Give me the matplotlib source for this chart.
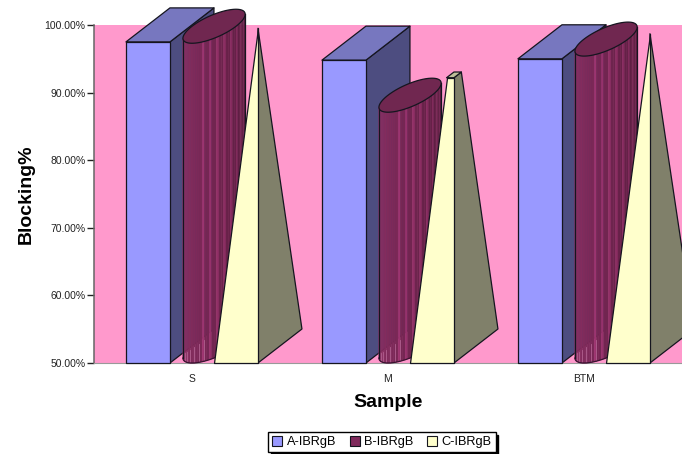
import matplotlib
matplotlib.use('Agg')
import matplotlib.pyplot as plt
from matplotlib.patches import Patch, Polygon
import numpy as np

plt.rcParams['font.family'] = ['Liberation Sans', 'DejaVu Sans']

samples = ['S', 'M', 'BTM']
a_values = [97.5, 94.8, 95.0]
b_values = [97.3, 87.1, 95.4]
c_values = [97.0, 92.2, 96.2]
# height the pyramid would reach if it was not cut off (only M is)
c_peaks = [97.0, 98.2, 96.2]
series_names = ['A-IBRgB', 'B-IBRgB', 'C-IBRgB']
y_ticks = [50, 60, 70, 80, 90, 100]

BASE = 50
WIDTH = 0.2245
DEPTH_X = 0.2245
DEPTH_Y = 5.03
EDGE = '#15151f'
LW = 0.9


def shape(ax, pts, color, zorder, edge=EDGE, lw=LW):
    ax.add_patch(Polygon(pts, closed=True, facecolor=color, edgecolor=edge,
                         linewidth=lw, joinstyle='round', clip_on=False, zorder=zorder))


# Box series
def draw_box(ax, x, v, zorder):
    r = x + WIDTH
    shape(ax, [(r, BASE), (r + DEPTH_X, BASE + DEPTH_Y), (r + DEPTH_X, v + DEPTH_Y), (r, v)], '#4d4d80', zorder)
    shape(ax, [(x, v), (r, v), (r + DEPTH_X, v + DEPTH_Y), (x + DEPTH_X, v + DEPTH_Y)], '#7777bf', zorder)
    shape(ax, [(x, BASE), (r, BASE), (r, v), (x, v)], '#9999ff', zorder)


def ring(cx, cy, t):
    return cx + WIDTH / 2 * (np.cos(t) + np.sin(t)), cy + DEPTH_Y / 2 * np.sin(t)


# Cylinder series, body built from thin vertical strips for the shading
def draw_cylinder(ax, x, v, zorder):
    cx = x + WIDTH / 2 + DEPTH_X / 2
    low = BASE + DEPTH_Y / 2
    top = v + DEPTH_Y / 2
    ts = np.linspace(5 * np.pi / 4, 9 * np.pi / 4, 41)
    for i in range(len(ts) - 1):
        f = i / (len(ts) - 2)
        col = np.array([0.56, 0.19, 0.40]) * (1 - f) + np.array([0.33, 0.10, 0.23]) * f
        if i > 12 and i % 3 == 0:
            col = col * 1.3
        seg = np.linspace(ts[i], ts[i + 1], 4)
        bx, by = ring(cx, low, seg)
        tx, ty = ring(cx, top, seg[::-1])
        pts = list(zip(bx, by)) + list(zip(tx, ty))
        ax.add_patch(Polygon(pts, closed=True, facecolor=col, edgecolor=col, linewidth=0.3,
                             clip_on=False, zorder=zorder))
    # pale streaks near the foot of the cylinder
    for t in np.linspace(5.2 * np.pi / 4, 6.6 * np.pi / 4, 7):
        px, py = ring(cx, low, t)
        ax.plot([px, px], [py, py + 1.6 * (t - 5 * np.pi / 4) / (np.pi / 4) + 0.5],
                color='#b0608f', lw=0.6, clip_on=False, zorder=zorder)
    bx, by = ring(cx, low, ts)
    ax.plot(bx, by, color='#3a1230', lw=LW, clip_on=False, zorder=zorder)
    for t0 in (ts[0], ts[-1]):
        px, y0 = ring(cx, low, t0)
        _, y1 = ring(cx, top, t0)
        ax.plot([px, px], [y0, y1], color=EDGE, lw=LW, clip_on=False, zorder=zorder)
    capx, capy = ring(cx, top, np.linspace(0, 2 * np.pi, 120))
    shape(ax, list(zip(capx, capy)), '#702750', zorder)


# Pyramid series, cut flat at v when v is under the peak
def draw_pyramid(ax, x, v, peak, zorder):
    cx = x + WIDTH / 2 + DEPTH_X / 2
    apex_y = peak + DEPTH_Y * 0.5
    fl = (x, BASE)
    fr = (x + WIDTH, BASE)
    br = (x + WIDTH + DEPTH_X, BASE + DEPTH_Y)
    bl = (x + DEPTH_X, BASE + DEPTH_Y)
    f = (v - BASE) / (apex_y - BASE) if v < peak else 1.0

    def lift(p):
        return (p[0] + (cx - p[0]) * f, p[1] + (apex_y - p[1]) * f)

    if f < 1:
        shape(ax, [fr, br, lift(br), lift(fr)], '#80806a', zorder)
        shape(ax, [lift(fl), lift(fr), lift(br), lift(bl)], '#bfbf99', zorder)
        shape(ax, [fl, fr, lift(fr), lift(fl)], '#ffffcc', zorder)
    else:
        shape(ax, [fr, br, (cx, apex_y)], '#80806a', zorder)
        shape(ax, [fl, fr, (cx, apex_y)], '#ffffcc', zorder)


fig = plt.figure(figsize=(6.82, 4.54), dpi=100)
ax = fig.add_axes([94 / 682, 91 / 454, 588 / 682, 338 / 454], facecolor='#ff99cc')

for i in range(len(samples)):
    draw_box(ax, i - 0.337, a_values[i], 3)
    draw_cylinder(ax, i - 0.112, b_values[i], 4)
    draw_pyramid(ax, i + 0.112, c_values[i], c_peaks[i], 5)

ax.set_xlim(-0.5, 2.5)
ax.set_ylim(50, 100)
ax.set_xticks(range(len(samples)))
ax.set_xticklabels(samples, fontsize=7.5, color='#222222')
ax.set_yticks(y_ticks)
ax.set_yticklabels(['%.2f%%' % t for t in y_ticks], fontsize=7.5, color='#222222')
ax.tick_params(axis='x', length=0, pad=8)
ax.tick_params(axis='y', length=5, width=1, color='#222222', pad=1)

ax.spines['top'].set_visible(False)
ax.spines['right'].set_visible(False)
ax.spines['left'].set_color('#666666')
ax.spines['left'].set_linewidth(1.1)
ax.spines['bottom'].set_color('#999999')
ax.spines['bottom'].set_linewidth(0.8)

ax.set_xlabel('Sample', fontsize=14, fontweight='bold', labelpad=7)
ax.set_ylabel('Blocking%', fontsize=14, fontweight='bold', labelpad=7)

handles = [Patch(facecolor=c, edgecolor='#15151f', linewidth=0.8, label=n)
           for c, n in zip(['#9999ff', '#802a5c', '#ffffcc'], series_names)]
fig.legend(handles=handles, ncol=3, loc='center', bbox_to_anchor=(382 / 682, 1 - 442 / 454),
           fontsize=9.2, frameon=True, fancybox=False, edgecolor='black', framealpha=1,
           shadow={'color': 'black', 'alpha': 1}, handlelength=0.8, handleheight=0.8,
           handletextpad=0.35, columnspacing=1.05, borderpad=0.3, borderaxespad=0)

fig.savefig('out.png', dpi=100)
